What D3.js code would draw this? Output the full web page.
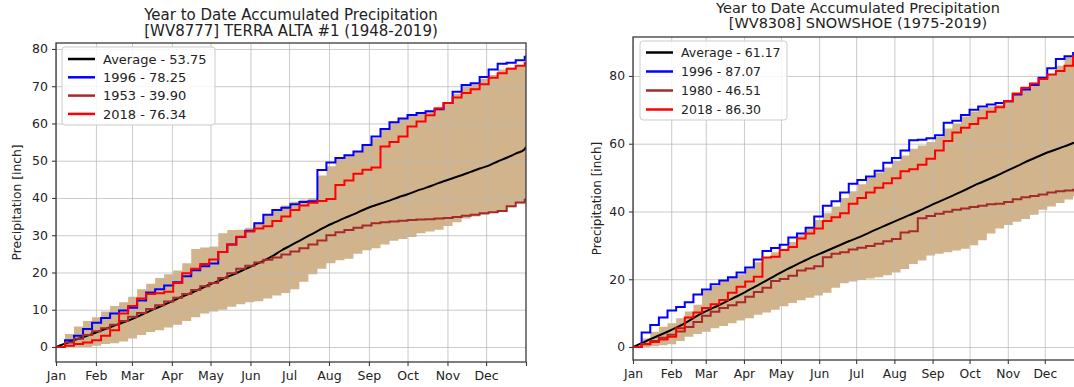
<!DOCTYPE html>
<html>
<head>
<meta charset="utf-8">
<script src="https://cdn.jsdelivr.net/npm/d3@7"></script>
<style>
  body { margin: 0; background: #fff; }
  svg text { font-family: "DejaVu Sans", sans-serif; fill: #222; }
</style>
</head>
<body>
<svg id="chart" width="1074" height="387"></svg>
<script>
// weekly sample days (day of year) + last day
var days = [0,7,14,21,28,35,42,49,56,63,70,77,84,91,98,105,112,119,126,133,140,147,154,161,168,175,182,189,196,203,
            210,217,224,231,238,245,252,259,266,273,280,287,294,301,308,315,322,329,336,343,350,357,364,365];
var monthStarts = [0,31,59,90,120,151,181,212,243,273,304,334];
var monthNames = ["Jan","Feb","Mar","Apr","May","Jun","Jul","Aug","Sep","Oct","Nov","Dec"];

// ---- WV8777 TERRA ALTA #1 ----
var taLabels = ["Average - 53.75", "1996 - 78.25", "1953 - 39.90", "2018 - 76.34"];
var taTicks = [0,10,20,30,40,50,60,70,80];
var taAverage = [0,0.9,1.8,2.6,3.5,4.4,5.3,6.2,7.1,8.1, 9.2,10.3,11.3,12.4,13.5,14.5,15.6,16.7,17.7,18.8,
                 19.8,20.9,22.0,23.1,24.4,25.9,27.2,28.5,29.8,31.1, 32.4,33.5,34.6,35.6,36.7,37.7,38.5,39.3,40.2,41.0,
                 41.9,42.7,43.6,44.5,45.3,46.1,47.0,47.9,48.7,49.8, 50.8,51.9,53.1,53.75];
var ta1996 = [0,1.8,3.0,4.8,6.5,7.8,9.0,9.8,10.5,12.5, 14.6,15.5,16.5,17.4,19.0,20.6,21.7,22.4,25.5,27.5,
              29.5,31.2,33.2,35.5,36.8,37.4,38.3,38.9,39.1,47.5, 49.5,50.7,51.5,52.5,54.2,56.5,58.5,60.3,61.3,62.3,
              62.8,63.3,63.8,65.5,68.5,70.3,70.8,72.5,74.5,76.0, 76.3,77.0,77.9,78.25];
var ta1953 = [0,1.2,2.2,3.2,4.2,5.0,6.0,7.0,8.1,9.1, 10.2,11.2,12.2,13.2,14.2,15.3,16.3,17.2,18.5,19.8,
              21.0,21.8,22.7,23.4,24.0,24.8,25.6,26.5,27.5,28.6, 30.0,30.8,31.4,32.0,32.6,33.2,33.5,33.7,33.9,34.1,
              34.2,34.3,34.5,34.6,34.9,35.2,35.5,35.9,36.2,36.5, 37.8,38.8,39.5,39.9];
var ta2018 = [0,0.3,0.8,1.2,1.8,3.0,4.5,9.0,11.0,13.0, 14.2,14.4,14.8,17.2,19.8,21.0,22.3,23.5,25.5,27.5,
              29.6,31.0,31.8,32.4,33.8,35.0,36.8,38.0,38.7,39.2, 39.7,43.5,44.7,46.5,47.6,48.2,53.8,55.0,56.5,59.2,
              60.5,62.2,64.0,65.5,67.0,68.2,69.2,70.5,72.3,73.5, 74.7,75.5,76.2,76.34];
var taBandHigh = [0,3.5,5.5,7,8,9.5,11,12,13.5,15.5, 17,18.5,19.5,20.5,22.5,26.3,26.7,27,30.5,31.4,
                  31.5,32,33.5,35.5,37,38,39,39.5,40,46, 48.5,50.5,51.5,52.5,54,56,58.5,60.5,61.5,62.3,
                  63,63.5,64.5,65.5,68,70,70.5,72,73,74.5, 75,75.5,76.5,76.6];
var taBandLow = [0,0,0,0,0.3,0.8,1,1.5,2.3,3.2, 4,4.5,5.2,6,7,8,9,9.5,10,10.8,
                 11.5,12,12.3,13,13.8,14.5,15.5,17.5,19.5,21, 22.5,23.3,23.7,25,26,26.5,27.5,28.5,29,29.5,
                 30.5,31,31.5,32.5,33.5,34.5,35,35.5,36,36.5, 37.5,38.5,39.5,39.8];

// ---- WV8308 SNOWSHOE ----
var ssLabels = ["Average - 61.17", "1996 - 87.07", "1980 - 46.51", "2018 - 86.30"];
var ssTicks = [0,20,40,60,80];
var ssAverage = [0,1.1,2.3,3.4,4.5,5.7,7.0,8.5,10.0,11.2, 12.4,13.7,14.9,16.2,17.6,19.0,20.4,21.8,23.1,24.4,
                 25.6,26.8,27.9,29.0,30.1,31.2,32.2,33.3,34.5,35.6, 36.7,37.8,38.9,40.0,41.2,42.4,43.5,44.6,45.8,47.0,
                 48.2,49.3,50.4,51.6,52.8,54.0,55.2,56.3,57.4,58.3, 59.2,60.2,61.1,61.17];
var ss1996 = [0,4.3,6.5,8.7,10.8,11.8,13.2,15.5,17.0,18.5, 19.6,20.6,22.0,23.5,25.8,28.3,29.2,30.2,32.3,33.5,
              35.2,38.5,41.7,43.0,45.6,48.2,49.3,50.3,52.0,54.4, 55.8,58.0,61.0,61.2,61.6,62.5,66.2,66.8,68.5,70.0,
              71.0,71.6,72.0,72.5,74.5,76.0,77.3,79.5,82.3,85.0, 85.8,86.8,87.0,87.07];
var ss1980 = [0,0.9,1.8,2.7,3.6,4.6,5.9,7.4,9.2,10.4, 11.5,12.3,13.2,14.8,16.2,17.5,19.5,20.1,21.0,22.6,
              23.2,23.8,26.5,27.5,28.0,28.8,29.3,29.8,30.5,31.2, 31.9,33.8,34.2,38.0,38.7,39.3,39.9,40.5,40.9,41.3,
              41.7,42.1,42.3,42.8,43.6,44.2,44.6,45.0,45.6,46.0, 46.2,46.4,46.5,46.51];
var ss2018 = [0,0.8,1.5,2.2,3.0,5.5,8.7,10.2,11.5,12.6, 13.9,16.0,17.8,19.3,20.7,26.4,26.6,28.6,29.5,32.0,
              33.5,35.0,37.2,38.3,39.5,42.3,44.0,45.6,47.0,48.3, 49.8,51.9,52.5,53.8,55.6,58.0,60.8,63.3,64.7,65.8,
              67.5,69.4,70.8,72.5,74.8,76.5,77.8,79.1,80.4,81.5, 83.0,85.8,86.2,86.3];
var ssBandHigh = [0,2.5,4.5,6,7,8.5,10.5,12.5,16.5,18, 19.5,20.5,21.5,23,25,26.5,28,29,31,33,
                  35,37.5,39.5,41.5,44,46,48,50,51.5,53, 55,56.5,58.5,59.5,60.5,62,64.5,66,68,69.5,
                  70.5,71,71.5,72.5,75,76.5,78,79.5,80.5,83, 85.5,86.3,86.5,86.5];
var ssBandLow = [0,0,0.2,0.5,0.8,1.8,3,3.8,4.5,5.5, 6.2,7,7.8,8.5,9.5,10.2,11,12,13,13.8,
                 14.5,15.2,16,17.5,18.8,19.3,19.8,20.2,20.6,21.2, 22,23,24.5,25.5,27,27.5,28,28.5,29,30,
                 31.5,33.5,35,36,37,37.8,39,40.5,41.5,42.5, 43.5,44.5,46,46.3];

var lineColors = ["#000000", "#0000ff", "#a52a2a", "#ff0000"];

var panels = [
  { id: "ta", title: ["Year to Date Accumulated Precipitation", "[WV8777] TERRA ALTA #1 (1948-2019)"],
    x0: 56, x1: 526, y0: 43, y1: 362, yDomain: [-4.03, 81.6], yTicks: taTicks,
    lines: [taAverage, ta1996, ta1953, ta2018], labels: taLabels, band: [taBandLow, taBandHigh],
    titleY: [19.5, 35.5], titleSize: 15, tickSize: 12.5, labelSize: 12.3, labelX: 21,
    legend: { x: 62, y: 47, w: 153, h: 78, row0: 59, step: 18.3, size: 13 } },
  { id: "ss", title: ["Year to Date Accumulated Precipitation", "[WV8308] SNOWSHOE (1975-2019)"],
    x0: 633, x1: 1083, y0: 37, y1: 360, yDomain: [-3.84, 91.5], yTicks: ssTicks,
    lines: [ssAverage, ss1996, ss1980, ss2018], labels: ssLabels, band: [ssBandLow, ssBandHigh],
    titleY: [13, 27.5], titleSize: 14.5, tickSize: 12.3, labelSize: 12, labelX: 601,
    legend: { x: 640, y: 41, w: 147, h: 79, row0: 52.5, step: 19, size: 12.5 } }
];

var svg = d3.select("#chart");

function drawPanel(p) {
  var x = d3.scaleLinear().domain([0, 365]).range([p.x0, p.x1]);
  var y = d3.scaleLinear().domain(p.yDomain).range([p.y1, p.y0]);
  var g = svg.append("g");

  g.append("clipPath").attr("id", "clip-" + p.id)
    .append("rect").attr("x", p.x0).attr("y", p.y0).attr("width", p.x1 - p.x0).attr("height", p.y1 - p.y0);

  var plot = g.append("g").attr("clip-path", "url(#clip-" + p.id + ")");

  // tan band between min and max
  var area = d3.area()
    .x(function(d, i) { return x(days[i]); })
    .y0(function(d, i) { return y(p.band[0][i]); })
    .y1(function(d, i) { return y(p.band[1][i]); })
    .curve(d3.curveStepAfter);
  plot.append("path").datum(days).attr("d", area).attr("fill", "#d2b48c");

  // grid
  var xTickVals = monthStarts.concat([365]);
  plot.append("g").attr("transform", "translate(0," + p.y1 + ")")
    .call(d3.axisBottom(x).tickValues(xTickVals).tickSize(-(p.y1 - p.y0)).tickFormat(""))
    .call(function(s) { s.select(".domain").remove(); s.selectAll("line").attr("stroke", "#b8b8b8").attr("stroke-opacity", 0.75); });
  plot.append("g").attr("transform", "translate(" + p.x0 + ",0)")
    .call(d3.axisLeft(y).tickValues(p.yTicks).tickSize(-(p.x1 - p.x0)).tickFormat(""))
    .call(function(s) { s.select(".domain").remove(); s.selectAll("line").attr("stroke", "#b8b8b8").attr("stroke-opacity", 0.75); });

  // lines
  p.lines.forEach(function(vals, k) {
    var line = d3.line()
      .x(function(d, i) { return x(days[i]); })
      .y(function(d) { return y(d); })
      .curve(k === 0 ? d3.curveMonotoneX : d3.curveStepAfter);
    plot.append("path").datum(vals).attr("d", line)
      .attr("fill", "none").attr("stroke", lineColors[k]).attr("stroke-width", 2);
  });

  // spines
  g.append("rect").attr("x", p.x0).attr("y", p.y0).attr("width", p.x1 - p.x0).attr("height", p.y1 - p.y0)
    .attr("fill", "none").attr("stroke", "#3a3a3a").attr("stroke-width", 1.3);

  // axes
  var xAxis = g.append("g").attr("transform", "translate(0," + p.y1 + ")")
    .call(d3.axisBottom(x).tickValues(xTickVals).tickSize(4).tickSizeOuter(0).tickPadding(5)
      .tickFormat(function(d) { var i = monthStarts.indexOf(d); return i >= 0 ? monthNames[i] : ""; }));
  var yAxis = g.append("g").attr("transform", "translate(" + p.x0 + ",0)")
    .call(d3.axisLeft(y).tickValues(p.yTicks).tickSize(4).tickSizeOuter(0).tickPadding(4));
  [xAxis, yAxis].forEach(function(a) {
    a.select(".domain").remove();
    a.selectAll("line").attr("stroke", "#3a3a3a").attr("stroke-width", 1.1);
    a.selectAll("text").attr("font-size", p.tickSize).attr("fill", "#222")
      .style("font-family", "'DejaVu Sans', sans-serif");
  });

  // titles
  p.title.forEach(function(t, i) {
    g.append("text").attr("x", (p.x0 + p.x1) / 2).attr("y", p.titleY[i])
      .attr("text-anchor", "middle").attr("font-size", p.titleSize).text(t);
  });

  // y label
  g.append("text")
    .attr("transform", "translate(" + p.labelX + "," + ((p.y0 + p.y1) / 2) + ") rotate(-90)")
    .attr("text-anchor", "middle").attr("font-size", p.labelSize).text("Precipitation [inch]");

  // legend
  var L = p.legend;
  var lg = g.append("g");
  lg.append("rect").attr("x", L.x).attr("y", L.y).attr("width", L.w).attr("height", L.h)
    .attr("rx", 3).attr("fill", "#fff").attr("fill-opacity", 0.85).attr("stroke", "#cccccc");
  p.labels.forEach(function(lbl, k) {
    var yy = L.row0 + k * L.step;
    lg.append("line").attr("x1", L.x + 6).attr("x2", L.x + 33).attr("y1", yy).attr("y2", yy)
      .attr("stroke", lineColors[k]).attr("stroke-width", 2.5);
    lg.append("text").attr("x", L.x + 41).attr("y", yy).attr("dy", "0.36em")
      .attr("font-size", L.size).text(lbl);
  });
}

panels.forEach(drawPanel);
</script>
</body>
</html>
